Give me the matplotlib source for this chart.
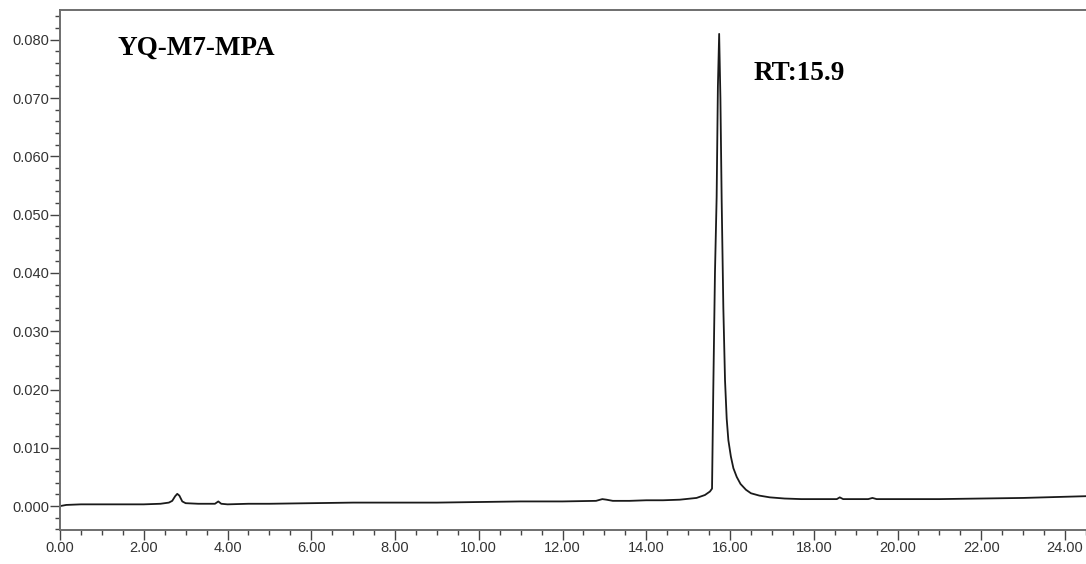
import matplotlib
matplotlib.use("Agg")
import matplotlib.pyplot as plt
from matplotlib.ticker import MultipleLocator, FormatStrFormatter

# retention time (min) and absorbance (AU) of the chromatogram trace
time_min = [0.00, 0.15, 0.50, 1.00, 1.50, 2.00, 2.40, 2.60, 2.68, 2.75, 2.80, 2.85,
            2.92, 3.00, 3.30, 3.70, 3.78, 3.85, 4.00, 4.50, 5.00, 6.00, 7.00, 8.00,
            9.00, 10.00, 11.00, 12.00, 12.80, 12.95, 13.05, 13.20, 13.60, 14.00,
            14.40, 14.80, 15.20, 15.40, 15.52, 15.57, 15.60, 15.64, 15.68, 15.71,
            15.74, 15.77, 15.80, 15.84, 15.88, 15.92, 15.96, 16.02, 16.08, 16.16,
            16.25, 16.38, 16.50, 16.70, 16.95, 17.30, 17.70, 18.20, 18.55, 18.62,
            18.70, 18.90, 19.30, 19.40, 19.50, 20.00, 21.00, 22.00, 23.00, 24.00, 24.50]
absorbance = [0.0000, 0.0002, 0.0003, 0.0003, 0.0003, 0.0003, 0.0004, 0.0006, 0.0009,
              0.0017, 0.0021, 0.0018, 0.0008, 0.0005, 0.0004, 0.0004, 0.0008, 0.0004,
              0.0003, 0.0004, 0.0004, 0.0005, 0.0006, 0.0006, 0.0006, 0.0007, 0.0008,
              0.0008, 0.0009, 0.0012, 0.0011, 0.0009, 0.0009, 0.0010, 0.0010, 0.0011,
              0.0014, 0.0019, 0.0025, 0.0030, 0.0200, 0.0400, 0.0530, 0.0720, 0.0810,
              0.0700, 0.0525, 0.0340, 0.0216, 0.0150, 0.0113, 0.0085, 0.0065, 0.0050,
              0.0038, 0.0028, 0.0022, 0.0018, 0.0015, 0.0013, 0.0012, 0.0012, 0.0012,
              0.0015, 0.0012, 0.0012, 0.0012, 0.0014, 0.0012, 0.0012, 0.0012, 0.0013,
              0.0014, 0.0016, 0.0017]

sample_name = "YQ-M7-MPA"
peak_label = "RT:15.9"

fig = plt.figure(figsize=(10.86, 5.64), dpi=100)
ax = fig.add_axes([60 / 1086, 34 / 564, 1 - 60 / 1086, 520 / 564])

ax.plot(time_min, absorbance, color="#1a1a1a", lw=1.3)

ax.set_xlim(0, 24.5)
ax.set_ylim(-0.0041, 0.0851)

ax.xaxis.set_major_locator(MultipleLocator(2))
ax.xaxis.set_minor_locator(MultipleLocator(0.5))
ax.yaxis.set_major_locator(MultipleLocator(0.01))
ax.yaxis.set_minor_locator(MultipleLocator(0.002))
ax.xaxis.set_major_formatter(FormatStrFormatter("%.2f"))
ax.yaxis.set_major_formatter(FormatStrFormatter("%.3f"))

for side in ["left", "top", "bottom"]:
    ax.spines[side].set_color("#6e6e6e")
    ax.spines[side].set_linewidth(1.4)
ax.spines["right"].set_visible(False)

ax.tick_params(which="major", length=7, width=1.0, color="#444444",
               labelsize=10.5, labelcolor="#333333", pad=1)
ax.tick_params(which="minor", length=3.6, width=1.0, color="#444444")
for lbl in ax.get_xticklabels() + ax.get_yticklabels():
    lbl.set_fontfamily("Liberation Sans")

ax.text(1.38, 0.0785, sample_name, fontfamily="Liberation Serif",
        fontweight="bold", fontsize=19.5, va="center", ha="left")
ax.text(16.55, 0.0742, peak_label, fontfamily="Liberation Serif",
        fontweight="bold", fontsize=19.5, va="center", ha="left")

fig.savefig("out.png", dpi=100)
